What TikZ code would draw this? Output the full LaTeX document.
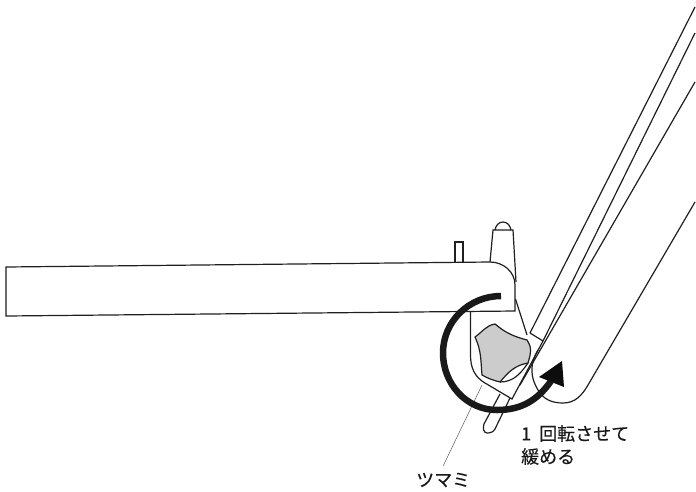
\documentclass[tikz,border=0pt]{standalone}
\usepackage{fontspec}
\setmainfont[FakeBold=0.35]{Noto Sans CJK JP}
\tikzset{
  part/.style={line width=1.2pt, draw=black!88},
  leader/.style={line width=0.45pt, draw=black!70},
  turn/.style={line width=6.5pt, draw=black!90},
  caption/.style={font=\fontsize{18}{23}\selectfont, text=black!90, inner sep=0pt, align=left},
}
\begin{document}
\begin{tikzpicture}[x=1pt, y=-1pt]
\useasboundingbox (0,0) rectangle (696,491);
% tube horizontal
\draw[part] (6,267) -- (490,262) to[out=0, in=90] (515,285) -- (515,311) -- (6,316) -- cycle;
\draw[part] (455,262) -- (455,242) -- (463,242) -- (463,262); % petit axe
\draw[part] (490,262) -- (493,230) -- (513,230) -- (516,282); % montant
\draw[part] (495,230) to[out=80, in=180] (503,222) to[out=0, in=100] (511,230);
%
\draw[part] (470.5,311) -- (470.5,355) to[out=-90, in=150] (485,383); % etrier
\draw[part] (515.5,299) -- (527,335);
\draw[part] (485,383) -- (512,399) -- (543,341); \draw[part] (530,333) -- (543,341);
%
\draw[part] (500,394) -- (484,424) to[out=-110, in=180] (487,433) to[out=0, in=240] (495,429) -- (510,398); % goupille
%
\draw[part, fill=black!20] (475,337) to[out=35, in=190] (495,324) to[out=-40, in=165] (527,340)
to[out=-60, in=90] (530.5,350) to[out=-90, in=75] (528,363) to[out=190, in=50] (500,382)
to[out=165, in=-30] (482,375) to[out=95, in=-65] cycle; % ツマミ
\draw[part] (500,382) to[out=0, in=235] (528,363);
%
\draw[part] (695,7) -- (530,333); % bras
\draw[part] (695,33) -- (543,341);
\draw[part] (695,82) -- (520,385);
\draw[part] (695,202) -- (588,385) to[out=240, in=0] (563,403)
to[out=180, in=-60] (538,390) to[out=120, in=-90] (532,370) to[out=90, in=240] (538,350);
%
\node[caption, anchor=west, outer ysep=7pt] (keyword) at (416,480) {ツマミ};
\node[caption, anchor=north west] (howto) at (521,425) {1\hspace{8pt}回転させて\\緩める};
\coordinate (knobtip) at (482,385);
\draw[leader] (knobtip) -- (keyword.north);
%
\draw[turn] (501,296) to[out=180, in=90] (443,353) to[out=-90, in=180] (497,410)
to[out=0, in=235] (551,381); % fleche
\fill[black!95] (562,361) -- (539,377) -- (564,387) -- cycle;
\end{tikzpicture}
\end{document}
